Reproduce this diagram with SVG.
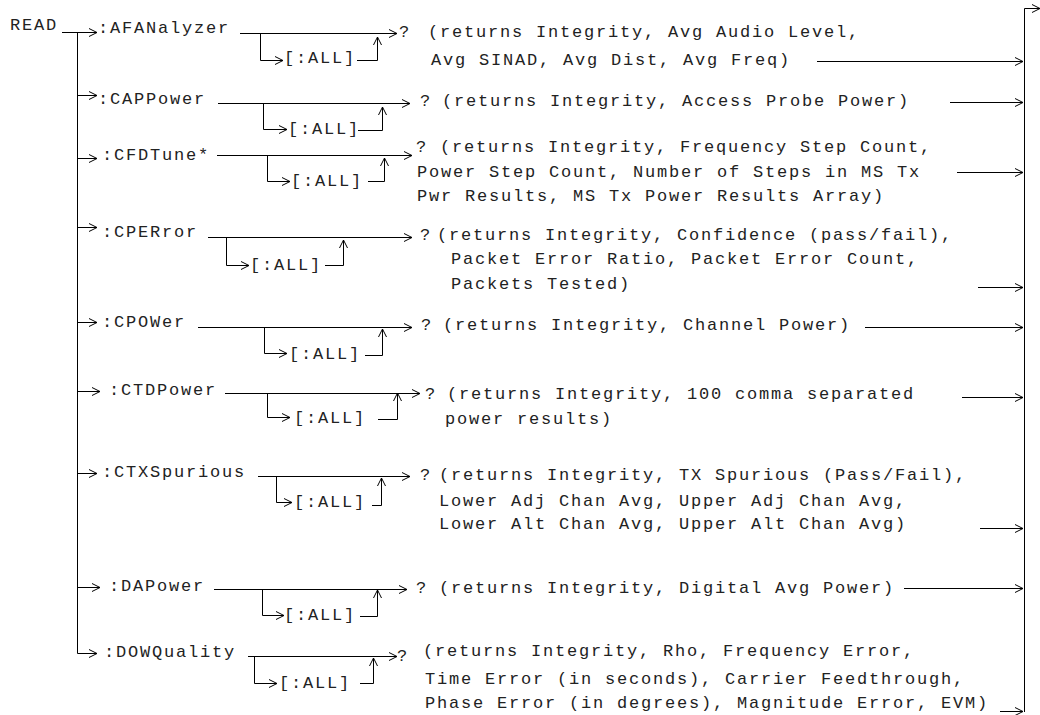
<svg xmlns="http://www.w3.org/2000/svg" width="1040" height="715" viewBox="0 0 1040 715">
<style>
.t{font-family:"Liberation Mono","DejaVu Sans Mono",monospace;font-size:17px;letter-spacing:1.8px;fill:#222}
.c{stroke:#000;stroke-width:1;fill:none}
.a{marker-end:url(#ar)}
</style>
<defs>
<marker id="ar" markerUnits="userSpaceOnUse" markerWidth="10" markerHeight="10" refX="8" refY="4" orient="auto" overflow="visible">
<path d="M0,0 L8,4 L0,8" fill="none" stroke="#000" stroke-width="1"/>
</marker>
</defs>
<rect width="1040" height="715" fill="#fff"/>
<g id="connectors">
<path class="c a" d="M62,32.5 H97"/>
<path class="c a" d="M77.5,32.5 V653.5 H97"/>
<path class="c a" d="M77.5,95.5 H97"/>
<path class="c a" d="M77.5,158.5 H97"/>
<path class="c a" d="M77.5,227.5 H97"/>
<path class="c a" d="M77.5,322.5 H97"/>
<path class="c a" d="M77.5,391.5 H100"/>
<path class="c a" d="M77.5,473.5 H97"/>
<path class="c a" d="M77.5,587.5 H100"/>
<path class="c a" d="M1024.5,712 V8.5 H1040"/>
<path class="c a" d="M240,33.5 H397"/>
<path class="c a" d="M260.5,33.5 V60.5 H283"/>
<path class="c a" d="M357,60.5 H377.5 V37"/>
<path class="c a" d="M817,61.5 H1023"/>
<path class="c a" d="M218,103.5 H410"/>
<path class="c a" d="M263.5,103.5 V129.5 H287"/>
<path class="c a" d="M358,130.5 H382.5 V107"/>
<path class="c a" d="M950,102.5 H1023"/>
<path class="c a" d="M217,155.5 H412"/>
<path class="c a" d="M267.5,155.5 V181.5 H290"/>
<path class="c a" d="M368,181.5 H384.5 V158"/>
<path class="c a" d="M957,172.5 H1023"/>
<path class="c a" d="M208,237.5 H412"/>
<path class="c a" d="M226.5,237.5 V265.5 H249"/>
<path class="c a" d="M325,265.5 H343.5 V240"/>
<path class="c a" d="M978,287.5 H1023"/>
<path class="c a" d="M198,327.5 H412"/>
<path class="c a" d="M264.5,327.5 V353.5 H287"/>
<path class="c a" d="M365,355.5 H382.5 V329"/>
<path class="c a" d="M865,327.5 H1023"/>
<path class="c a" d="M225,393.5 H420"/>
<path class="c a" d="M267.5,393.5 V417.5 H290"/>
<path class="c a" d="M378,419.5 H397.5 V393"/>
<path class="c a" d="M962,397.5 H1023"/>
<path class="c a" d="M258,476.5 H410"/>
<path class="c a" d="M276.5,476.5 V502.5 H292"/>
<path class="c a" d="M372,505.5 H381.5 V478"/>
<path class="c a" d="M980,528.5 H1023"/>
<path class="c a" d="M214,589.5 H407"/>
<path class="c a" d="M262.5,589.5 V615.5 H284"/>
<path class="c a" d="M360,616.5 H377.5 V590"/>
<path class="c a" d="M904,588.5 H1023"/>
<path class="c a" d="M248,656.5 H397"/>
<path class="c a" d="M254.5,656.5 V683.5 H277"/>
<path class="c a" d="M360,683.5 H373.5 V658"/>
<path class="c a" d="M1000,711.5 H1023"/>
</g>
<g id="read"><text class="t" x="10" y="30">READ</text></g>
<g id="afanalyzer">
<text class="t" x="98" y="33">:AFANalyzer</text>
<text class="t" x="284" y="63">[:ALL]</text>
<text class="t" x="399" y="37">?</text>
<text class="t" x="428" y="37">(returns Integrity, Avg Audio Level,</text>
<text class="t" x="431" y="65">Avg SINAD, Avg Dist, Avg Freq)</text>
</g>
<g id="cappower">
<text class="t" x="98" y="104">:CAPPower</text>
<text class="t" x="288" y="134">[:ALL]</text>
<text class="t" x="420" y="106">?</text>
<text class="t" x="442" y="106">(returns Integrity, Access Probe Power)</text>
</g>
<g id="cfdtune">
<text class="t" x="102" y="160">:CFDTune*</text>
<text class="t" x="291" y="186">[:ALL]</text>
<text class="t" x="416" y="152">?</text>
<text class="t" x="440" y="152">(returns Integrity, Frequency Step Count,</text>
<text class="t" x="417" y="177">Power Step Count, Number of Steps in MS Tx</text>
<text class="t" x="417" y="201">Pwr Results, MS Tx Power Results Array)</text>
</g>
<g id="cperror">
<text class="t" x="102" y="237">:CPERror</text>
<text class="t" x="250" y="270">[:ALL]</text>
<text class="t" x="420" y="240">?</text>
<text class="t" x="437" y="240">(returns Integrity, Confidence (pass/fail),</text>
<text class="t" x="451" y="264">Packet Error Ratio, Packet Error Count,</text>
<text class="t" x="451" y="289">Packets Tested)</text>
</g>
<g id="cpower">
<text class="t" x="102" y="327">:CPOWer</text>
<text class="t" x="289" y="359">[:ALL]</text>
<text class="t" x="421" y="330">?</text>
<text class="t" x="443" y="330">(returns Integrity, Channel Power)</text>
</g>
<g id="ctdpower">
<text class="t" x="109" y="395">:CTDPower</text>
<text class="t" x="294" y="423">[:ALL]</text>
<text class="t" x="425" y="399">?</text>
<text class="t" x="447" y="399">(returns Integrity, 100 comma separated</text>
<text class="t" x="445" y="424">power results)</text>
</g>
<g id="ctxspurious">
<text class="t" x="102" y="477">:CTXSpurious</text>
<text class="t" x="294" y="507">[:ALL]</text>
<text class="t" x="420" y="480">?</text>
<text class="t" x="439" y="480">(returns Integrity, TX Spurious (Pass/Fail),</text>
<text class="t" x="439" y="506">Lower Adj Chan Avg, Upper Adj Chan Avg,</text>
<text class="t" x="439" y="529">Lower Alt Chan Avg, Upper Alt Chan Avg)</text>
</g>
<g id="dapower">
<text class="t" x="109" y="591">:DAPower</text>
<text class="t" x="284" y="620">[:ALL]</text>
<text class="t" x="416" y="593">?</text>
<text class="t" x="439" y="593">(returns Integrity, Digital Avg Power)</text>
</g>
<g id="dowquality">
<text class="t" x="104" y="657">:DOWQuality</text>
<text class="t" x="279" y="688">[:ALL]</text>
<text class="t" x="397" y="661">?</text>
<text class="t" x="423" y="656">(returns Integrity, Rho, Frequency Error,</text>
<text class="t" x="425" y="684">Time Error (in seconds), Carrier Feedthrough,</text>
<text class="t" x="425" y="708">Phase Error (in degrees), Magnitude Error, EVM)</text>
</g>
</svg>
